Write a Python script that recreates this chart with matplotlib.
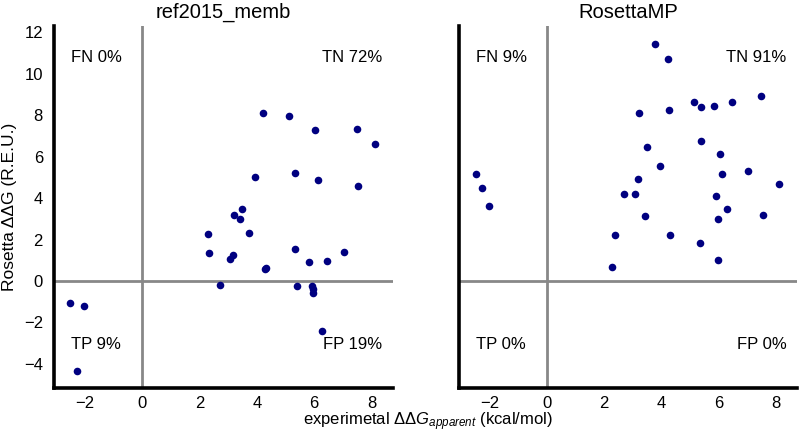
import numpy as np
import matplotlib
matplotlib.use("Agg")
import matplotlib.pyplot as plt

plt.rcParams['font.family'] = ['Liberation Sans', 'DejaVu Sans']
plt.rcParams['mathtext.fontset'] = 'custom'
plt.rcParams['mathtext.rm'] = 'Liberation Sans'
plt.rcParams['mathtext.it'] = 'Liberation Sans:italic'

# ref2015_memb: experimental ddG vs predicted ddG
ref_x = [4.23, 5.12, 6.02, 7.49, 8.12, 3.94, 5.34, 6.12, 7.54, 3.49, 3.21, 3.40,
         2.28, 3.73, 2.34, 3.05, 3.18, 5.33, 7.03, 5.83, 6.43, 4.28, 4.31, 2.70,
         5.39, 5.91, 5.96, 5.96, 6.28, -2.52, -2.04, -2.27]
ref_y = [8.11, 7.94, 7.26, 7.31, 6.60, 5.04, 5.20, 4.87, 4.59, 3.47, 3.20, 3.00,
         2.28, 2.31, 1.33, 1.08, 1.25, 1.53, 1.41, 0.90, 0.95, 0.56, 0.61, -0.18,
         -0.26, -0.24, -0.37, -0.59, -2.41, -1.04, -1.22, -4.34]

# RosettaMP
mp_x = [3.77, 4.24, 7.50, 5.15, 5.38, 5.83, 6.46, 4.28, 3.22, 5.40, 3.51, 6.04,
        3.95, 7.05, 6.14, 3.19, 8.13, 2.71, 3.07, 5.92, 6.30, 3.42, 5.98, 7.56,
        2.37, 4.31, 5.36, 5.99, 2.28, -2.49, -2.26, -2.03]
mp_y = [11.45, 10.70, 8.90, 8.63, 8.37, 8.43, 8.64, 8.26, 8.08, 6.75, 6.46, 6.12,
        5.57, 5.30, 5.16, 4.93, 4.69, 4.18, 4.22, 4.10, 3.49, 3.12, 3.00, 3.18,
        2.23, 2.23, 1.82, 1.01, 0.67, 5.16, 4.48, 3.63]

titles = ["ref2015_memb", "RosettaMP"]
quadrants = [["FN 0%", "TN 72%", "TP 9%", "FP 19%"],
             ["FN 9%", "TN 91%", "TP 0%", "FP 0%"]]

fig = plt.figure(figsize=(8, 4.42), dpi=100)
ax1 = fig.add_axes([54/800, 54/442, 339/800, 362/442])
ax2 = fig.add_axes([459/800, 54/442, 338/800, 362/442], sharey=ax1)

for ax, xs, ys, title, quad in zip([ax1, ax2], [ref_x, mp_x], [ref_y, mp_y], titles, quadrants):
    ax.axhline(0, color='#888888', lw=2.0, zorder=1)
    ax.axvline(0, color='#888888', lw=2.0, zorder=1)
    ax.scatter(xs, ys, s=30, color='#000080', zorder=3, linewidths=0)
    ax.set_xlim(-3.08, 8.75)
    ax.set_ylim(-5.16, 12.3)
    ax.set_xticks([-2, 0, 2, 4, 6, 8])
    ax.set_xticklabels(['\u22122', '0', '2', '4', '6', '8'])
    for s in ['top', 'right']:
        ax.spines[s].set_visible(False)
    for s in ['left', 'bottom']:
        ax.spines[s].set_linewidth(2.6)
    ax.tick_params(length=0, labelsize=12)
    ax.tick_params(axis='x', pad=6)
    ax.tick_params(axis='y', pad=8)
    ax.set_title(title, fontsize=14.5, pad=6)
    ax.text(-2.47, 10.8, quad[0], fontsize=12, va='center', ha='left')
    ax.text(8.38, 10.8, quad[1], fontsize=12, va='center', ha='right')
    ax.text(-2.47, -3.08, quad[2], fontsize=12, va='center', ha='left')
    ax.text(8.38, -3.08, quad[3], fontsize=12, va='center', ha='right')

ax1.set_yticks([-4, -2, 0, 2, 4, 6, 8, 10, 12])
ax1.set_yticklabels(['\u22124', '\u22122', '0', '2', '4', '6', '8', '10', '12'])
plt.setp(ax2.get_yticklabels(), visible=False)
ax1.set_ylabel("Rosetta \u0394\u0394G (R.E.U.)", fontsize=12.5, labelpad=5)

fig.text(428/800, 20/442, r"experimetal $\mathrm{\Delta\Delta}G_{apparent}$ (kcal/mol)",
         ha='center', va='center', fontsize=12)

fig.savefig("out.png", dpi=100)
